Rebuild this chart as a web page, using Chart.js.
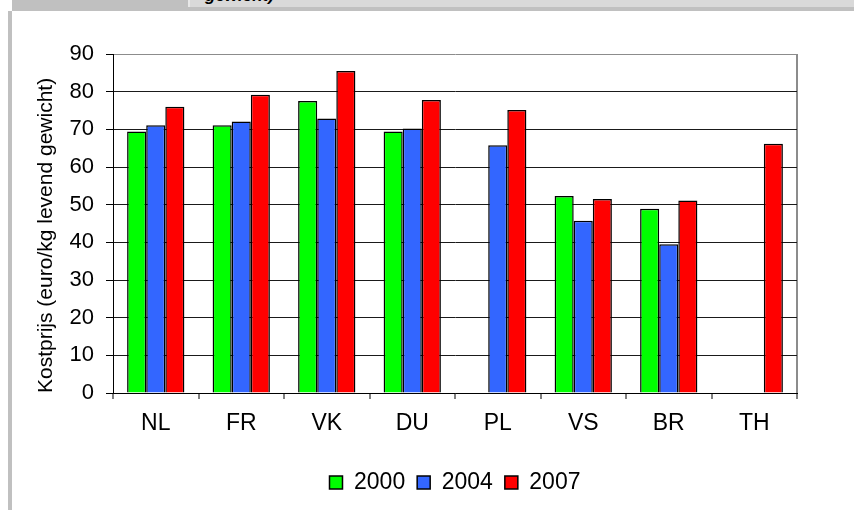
<!DOCTYPE html>
<html>
<head>
    <title>Kostprijs</title>
    <script src="https://cdn.jsdelivr.net/npm/chart.js"></script>
    <style>
        body { margin: 0; background: #fff; }
        #wrap { position: relative; width: 854px; height: 510px; overflow: hidden; }
        .frame { position: absolute; }
        #strip { left: 12px; top: 0; width: 842px; height: 7px; background: #d9d9d9; overflow: hidden; }
        #stripDark { left: 12px; top: 0; width: 176px; height: 7px; background: #c0c0c0; }
        #stripSep { left: 188px; top: 0; width: 2px; height: 7px; background: #e8e8e8; }
        #band { left: 12px; top: 7px; width: 842px; height: 4px; background: #c0c0c0; }
        #leftBorder { left: 8px; top: 11px; width: 4px; height: 499px; background: #c0c0c0; }
        #capText { position: absolute; left: 193px; top: -14px; font: bold italic 17px "Liberation Sans", Arial, sans-serif; color: #000; white-space: nowrap; }
        canvas { position: absolute; left: 0; top: 0; }
    </style>
</head>
<body>
<div id="wrap">
    <div class="frame" id="strip"><span id="capText">gewicht)</span></div>
    <div class="frame" id="stripDark"></div>
    <div class="frame" id="stripSep"></div>
    <div class="frame" id="band"></div>
    <div class="frame" id="leftBorder"></div>
    <canvas id="costChart" width="854" height="510"></canvas>
</div>

<script>
    const countries = ['NL', 'FR', 'VK', 'DU', 'PL', 'VS', 'BR', 'TH'];
    const years = ['2000', '2004', '2007'];
    const cost2000 = [69.4, 71.1, 77.5, 69.4, null, 52.3, 48.9, null];
    const cost2004 = [71.1, 72.1, 72.9, 70.2, 65.8, 45.7, 39.5, null];
    const cost2007 = [76.0, 79.2, 85.5, 77.8, 75.1, 51.5, 51.1, 66.2];
    const yTicks = [0, 10, 20, 30, 40, 50, 60, 70, 80, 90];

    const colors = ['#00ff00', '#3366ff', '#ff0000'];
    const series = [cost2000, cost2004, cost2007];
    const sans = '"Liberation Sans", Arial, sans-serif';

    const ctx = document.getElementById('costChart').getContext('2d');
    new Chart(ctx, {
        type: 'bar',
        data: {
            labels: countries,
            datasets: series.map((vals, i) => ({
                label: years[i],
                data: vals,
                backgroundColor: colors[i],
                borderColor: '#000',
                borderWidth: 1.5,
                borderSkipped: 'bottom',
                categoryPercentage: 0.67,
                barPercentage: 1.0
            }))
        },
        options: {
            responsive: false,
            animation: false,
            layout: { padding: { left: 20, top: 54, right: 57, bottom: 6 } },
            plugins: {
                tooltip: { enabled: false },
                legend: {
                    position: 'bottom',
                    fullSize: false,
                    labels: {
                        boxWidth: 13,
                        boxHeight: 13,
                        padding: 12,
                        color: '#000',
                        font: { family: sans, size: 23 }
                    }
                }
            },
            scales: {
                x: {
                    grid: {
                        offset: true,
                        drawOnChartArea: true,
                        color: c => c.index === undefined ? '#8c8c8c' : 'rgba(0,0,0,0)',
                        lineWidth: 2,
                        tickColor: '#000',
                        tickLength: 6,
                        tickWidth: 1
                    },
                    border: { color: '#000', width: 1 },
                    ticks: {
                        color: '#000',
                        padding: 11,
                        font: { family: sans, size: 23 }
                    },
                    afterFit: s => { s.height = 66; }
                },
                y: {
                    min: 0,
                    max: 90,
                    afterBuildTicks: s => { s.ticks = yTicks.map(v => ({ value: v })); },
                    grid: {
                        color: c => c.tick && c.tick.value === 90 ? '#8c8c8c' : '#1a1a1a',
                        tickColor: '#000',
                        tickLength: 7,
                        lineWidth: 1
                    },
                    border: { color: '#000', width: 1 },
                    ticks: {
                        color: '#000',
                        padding: 12,
                        font: { family: sans, size: 22 }
                    },
                    title: {
                        display: true,
                        align: 'start',
                        text: 'Kostprijs (euro/kg levend gewicht)',
                        color: '#000',
                        padding: { top: 14, bottom: 0 },
                        font: { family: sans, size: 21 }
                    },
                    afterFit: s => { s.width = 93; }
                }
            }
        }
    });
</script>
</body>
</html>
